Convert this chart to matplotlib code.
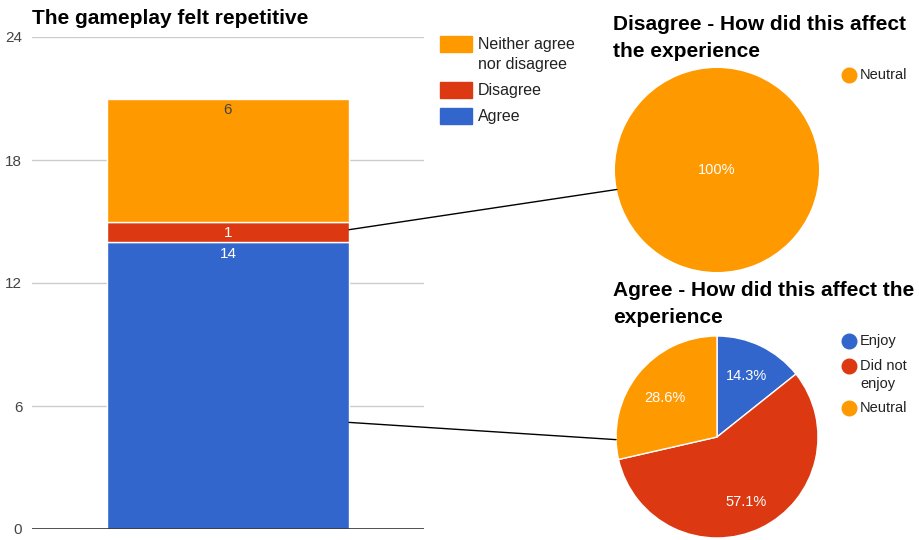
import matplotlib
matplotlib.use("Agg")
import matplotlib.pyplot as plt
from matplotlib.patches import Rectangle, ConnectionPatch
from matplotlib.lines import Line2D
import numpy as np

plt.rcParams['font.family'] = ['Liberation Sans', 'DejaVu Sans']

# ---- data ----
bar_title = "The gameplay felt repetitive"
bar_categories = ["Agree", "Disagree", "Neither agree\nnor disagree"]
bar_values = [14, 1, 6]
bar_colors = ["#3366CC", "#DC3912", "#FF9900"]
y_ticks = [0, 6, 12, 18, 24]

pie1_title = "Disagree - How did this affect\nthe experience"
pie1_labels = ["Neutral"]
pie1_values = [1]
pie1_colors = ["#FF9900"]

pie2_title = "Agree - How did this affect the\nexperience"
pie2_labels = ["Enjoy", "Did not\nenjoy", "Neutral"]
pie2_values = [2, 8, 4]
pie2_colors = ["#3366CC", "#DC3912", "#FF9900"]

W, H = 919, 540
fig = plt.figure(figsize=(W / 100, H / 100), dpi=100)

def fx(px):
    return px / W

def fy(py):
    return 1 - py / H

TITLE_FS = 15
# ---- stacked bar ----
ax = fig.add_axes([fx(32), fy(529), fx(424 - 32), (529 - 37) / H])
bottom = 0
bar_w = 242 / 392
for val, col, cat in zip(bar_values, bar_colors, bar_categories):
    ax.bar(0, val, bottom=bottom, width=bar_w, color=col, edgecolor="white",
           linewidth=1, zorder=3)
    tcol = "#444444" if col == "#FF9900" else "white"
    ax.text(0, bottom + val - 0.22, str(val), ha="center", va="top",
            fontsize=11, color=tcol, zorder=4)
    bottom += val
ax.set_xlim(-0.5, 0.5)
ax.set_ylim(0, 24)
ax.set_yticks(y_ticks)
ax.set_yticklabels([str(t) for t in y_ticks])
ax.tick_params(axis="y", length=0, pad=7, labelsize=11, labelcolor="#444444")
ax.set_xticks([])
for s in ax.spines.values():
    s.set_visible(False)
for t in y_ticks[1:]:
    ax.axhline(t, color="#CCCCCC", linewidth=1, zorder=1)
ax.axhline(0, color="#333333", linewidth=1.2, zorder=5)
fig.text(fx(32), fy(19), bar_title, fontsize=TITLE_FS, fontweight="bold",
         ha="left", va="center", color="black")

# bar legend (manual)
leg_y = [116, 90, 54.5]
rect_y = [116, 90, 44]
for cat, col, ly, ry in zip(bar_categories, bar_colors, leg_y, rect_y):
    fig.patches.append(Rectangle((fx(440), fy(ry + 8)), fx(32), 16 / H,
                                 transform=fig.transFigure, color=col))
    fig.text(fx(478), fy(ly), cat, fontsize=11.5, color="#222222",
             ha="left", va="center", linespacing=1.45)

# ---- pie 1 ----
ax1 = fig.add_axes([fx(615), fy(272), fx(204), 204 / H])
w1, t1, a1 = ax1.pie(pie1_values, colors=pie1_colors, startangle=90,
                     counterclock=False, autopct="%1.0f%%", pctdistance=0.0,
                     textprops=dict(color="white", fontsize=10.5),
                     wedgeprops=dict(linewidth=0))
ax1.set_xlim(-1, 1)
ax1.set_ylim(-1, 1)
ax1.set_aspect("equal")
ax1.axis("off")
fig.text(fx(613), fy(38), pie1_title, fontsize=TITLE_FS, fontweight="bold",
         ha="left", va="center", linespacing=1.5)
for lab, col, ly in zip(pie1_labels, pie1_colors, [75]):
    fig.add_artist(Line2D([fx(849)], [fy(ly)], marker="o", markersize=10.5,
                          color=col, transform=fig.transFigure))
    fig.text(fx(860), fy(ly), lab, fontsize=10.5, color="#222222",
             ha="left", va="center")

# ---- pie 2 ----
ax2 = fig.add_axes([fx(616), fy(538), fx(202), 202 / H])
w2, t2, a2 = ax2.pie(pie2_values, colors=pie2_colors, startangle=90,
                     counterclock=False, autopct="%1.1f%%", pctdistance=0.6,
                     textprops=dict(color="white", fontsize=10.5),
                     wedgeprops=dict(linewidth=1, edgecolor="white"))
# label placement as in the reference
label_pos = [(0.29, 0.60), (0.29, -0.64), (-0.52, 0.39)]
for txt, pos in zip(a2, label_pos):
    txt.set_position(pos)
ax2.set_xlim(-1, 1)
ax2.set_ylim(-1, 1)
ax2.set_aspect("equal")
ax2.axis("off")
fig.text(fx(613), fy(304), pie2_title, fontsize=TITLE_FS, fontweight="bold",
         ha="left", va="center", linespacing=1.5)
for lab, col, ly, tyy in zip(pie2_labels, pie2_colors, [341, 366, 408],
                             [341, 375, 408]):
    fig.add_artist(Line2D([fx(849)], [fy(ly)], marker="o", markersize=10.5,
                          color=col, transform=fig.transFigure))
    fig.text(fx(860), fy(tyy), lab, fontsize=10.5, color="#222222",
             ha="left", va="center", linespacing=1.45)

# ---- connectors ----
ang1 = np.deg2rad(191)
con1 = ConnectionPatch(xyA=(bar_w / 2, 14.6), coordsA=ax.transData,
                       xyB=(np.cos(ang1), np.sin(ang1)), coordsB=ax1.transData,
                       color="black", linewidth=1)
fig.add_artist(con1)
ang2 = np.deg2rad(181.5)
con2 = ConnectionPatch(xyA=(bar_w / 2, 5.2), coordsA=ax.transData,
                       xyB=(np.cos(ang2), np.sin(ang2)), coordsB=ax2.transData,
                       color="black", linewidth=1)
fig.add_artist(con2)

fig.savefig("out.png", dpi=100)
